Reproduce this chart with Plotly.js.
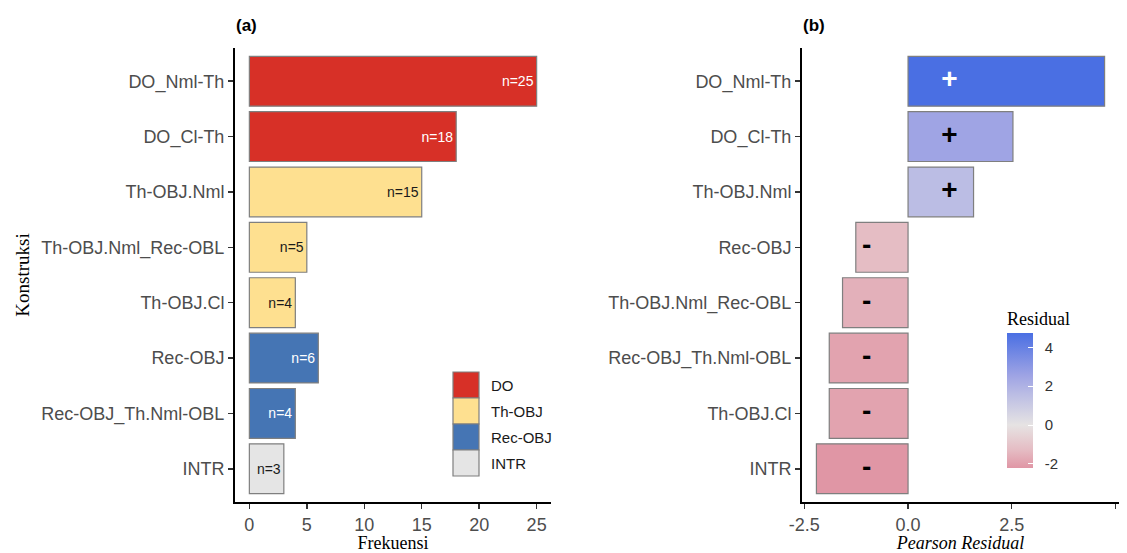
<!DOCTYPE html>
<html>
<head>
<meta charset="utf-8">
<script src="https://cdn.plot.ly/plotly-3.0.1.min.js"></script>
<style>html,body{margin:0;padding:0;background:#fff;}#chart{width:1127px;height:553px;}</style>
</head>
<body>
<div id="chart"></div>
<script>
// ---- Data ----
const categoriesA = ['DO_Nml-Th','DO_Cl-Th','Th-OBJ.Nml','Th-OBJ.Nml_Rec-OBL','Th-OBJ.Cl','Rec-OBJ','Rec-OBJ_Th.Nml-OBL','INTR'];
const frequencies = [25, 18, 15, 5, 4, 6, 4, 3];
const groupsA = ['DO','DO','Th-OBJ','Th-OBJ','Th-OBJ','Rec-OBJ','Rec-OBJ','INTR'];
const groupNames = ['DO','Th-OBJ','Rec-OBJ','INTR'];
const groupColors = ['#D73027','#FEE090','#4575B4','#E5E5E5'];
const groupTextColors = ['#FFFFFF','#1A1A1A','#FFFFFF','#1A1A1A'];
const xTicksA = [0, 5, 10, 15, 20, 25];

const categoriesB = ['DO_Nml-Th','DO_Cl-Th','Th-OBJ.Nml','Rec-OBJ','Th-OBJ.Nml_Rec-OBL','Rec-OBJ_Th.Nml-OBL','Th-OBJ.Cl','INTR'];
const residuals = [4.74, 2.53, 1.58, -1.26, -1.58, -1.90, -1.90, -2.21];
const signLabels = ['+','+','+','-','-','-','-','-'];
const signColors = ['#FFFFFF','#000000','#000000','#000000','#000000','#000000','#000000','#000000'];
const xTicksB = [-2.5, 0, 2.5, 5];
const xTickTextB = ['-2.5','0.0','2.5','5.0'];
const colorTicks = [-2, 0, 2, 4];
const colorTickText = ['-2','0','2','4'];

// ---- Helpers ----
const W = 1127, H = 553;
const px = v => v / W;
const py = v => 1 - v / H;
const gIdx = g => groupNames.indexOf(g);

const rMin = Math.min(...residuals), rMax = Math.max(...residuals);
const pos = v => (v - rMin) / (rMax - rMin);
const colorscale = [
  [0, '#E096A5'],
  [pos(-1.26), '#E5BDC4'],
  [pos(0), '#E6E3E3'],
  [pos(1.58), '#BBBDE4'],
  [pos(2.53), '#9FA4E4'],
  [1, '#4A6FE3']
];

const sans = 'Liberation Sans, Arial, sans-serif';
const serif = 'Liberation Serif, Times New Roman, serif';
const nb = '\u00A0\u00A0';

const traceA = {
  type: 'bar', orientation: 'h',
  x: frequencies, y: categoriesA,
  xaxis: 'x', yaxis: 'y',
  width: 0.9,
  marker: {
    color: groupsA.map(g => groupColors[gIdx(g)]),
    line: {color: '#7F7F7F', width: 1.2}
  },
  text: frequencies.map(n => 'n=' + n),
  textposition: 'inside',
  insidetextanchor: 'end',
  textangle: 0,
  textfont: {family: sans, size: 14, color: groupsA.map(g => groupTextColors[gIdx(g)])},
  hoverinfo: 'skip', showlegend: false
};

const traceB = {
  type: 'bar', orientation: 'h',
  x: residuals, y: categoriesB,
  xaxis: 'x2', yaxis: 'y2',
  width: 0.9,
  marker: {
    color: residuals,
    colorscale: colorscale,
    cmin: rMin, cmax: rMax,
    line: {color: '#7F7F7F', width: 1.2},
    showscale: true,
    colorbar: {
      x: px(1007), xanchor: 'left', xpad: 0,
      y: py(308), yanchor: 'top', ypad: 0,
      thickness: 26, len: 160, lenmode: 'pixels',
      outlinewidth: 0,
      tickvals: colorTicks, ticktext: colorTickText.map(t => nb + t),
      ticks: 'inside', ticklen: 5, tickcolor: '#FFFFFF', tickwidth: 1,
      tickfont: {family: sans, size: 15, color: '#333333'},
      title: {text: 'Residual', side: 'top', font: {family: serif, size: 18, color: '#000000'}}
    }
  },
  hoverinfo: 'skip', showlegend: false
};

const traceSigns = {
  type: 'scatter', mode: 'text',
  x: residuals.map(v => v > 0 ? 1 : -1), y: categoriesB,
  xaxis: 'x2', yaxis: 'y2',
  text: signLabels,
  textposition: 'middle center',
  textfont: {family: sans, size: 28, weight: 'bold', color: signColors},
  hoverinfo: 'skip', showlegend: false, cliponaxis: false
};

const axisCommon = {
  showgrid: false, zeroline: false, showline: true,
  linecolor: '#000000', linewidth: 2,
  ticks: 'outside', ticklen: 5, tickwidth: 1.5, tickcolor: '#333333',
  tickfont: {family: sans, size: 18, color: '#4D4D4D'},
  fixedrange: true
};

const yDom = [py(502), py(48)];

// custom legend (left panel)
const shapes = [];
const annotations = [];
groupNames.forEach((g, i) => {
  const top = 372 + i * 26;
  shapes.push({
    type: 'rect', xref: 'paper', yref: 'paper',
    x0: px(453), x1: px(479), y0: py(top + 26), y1: py(top),
    fillcolor: groupColors[i], line: {color: '#7F7F7F', width: 1.2}
  });
  annotations.push({
    xref: 'paper', yref: 'paper', x: px(489), y: py(top + 13),
    xanchor: 'left', yanchor: 'middle', showarrow: false,
    text: g, font: {family: sans, size: 15, color: '#1A1A1A'}
  });
});
annotations.push({
  xref: 'paper', yref: 'paper', x: px(234), y: py(25), xanchor: 'left', yanchor: 'middle',
  showarrow: false, text: '<b>(a)</b>', font: {family: sans, size: 17, color: '#000000'}
});
annotations.push({
  xref: 'paper', yref: 'paper', x: px(801), y: py(25), xanchor: 'left', yanchor: 'middle',
  showarrow: false, text: '<b>(b)</b>', font: {family: sans, size: 17, color: '#000000'}
});

const layout = {
  width: W, height: H,
  margin: {l: 0, r: 0, t: 0, b: 0},
  paper_bgcolor: '#FFFFFF', plot_bgcolor: '#FFFFFF',
  barmode: 'overlay',
  showlegend: false,
  xaxis: Object.assign({}, axisCommon, {
    domain: [px(235), px(551)], anchor: 'y',
    range: [-1.25, 26.25], tickvals: xTicksA,
    title: {text: 'Frekuensi', standoff: 8, font: {family: serif, size: 18, color: '#000000'}}
  }),
  yaxis: Object.assign({}, axisCommon, {
    domain: yDom, anchor: 'x',
    type: 'category', categoryorder: 'array', categoryarray: categoriesA,
    range: [7.6, -0.6],
    title: {text: 'Konstruksi', standoff: 7, font: {family: serif, size: 19, color: '#000000'}}
  }),
  xaxis2: Object.assign({}, axisCommon, {
    domain: [px(802), px(1119)], anchor: 'y2',
    range: [rMin - 0.05 * (rMax - rMin), rMax + 0.05 * (rMax - rMin)],
    tickvals: xTicksB, ticktext: xTickTextB,
    title: {text: '<i>Pearson Residual</i>', standoff: 8, font: {family: serif, size: 18, color: '#000000'}}
  }),
  yaxis2: Object.assign({}, axisCommon, {
    domain: yDom, anchor: 'x2',
    type: 'category', categoryorder: 'array', categoryarray: categoriesB,
    range: [7.6, -0.6]
  }),
  shapes: shapes,
  annotations: annotations
};

Plotly.newPlot('chart', [traceA, traceB, traceSigns], layout, {displayModeBar: false, staticPlot: true});
</script>
</body>
</html>
